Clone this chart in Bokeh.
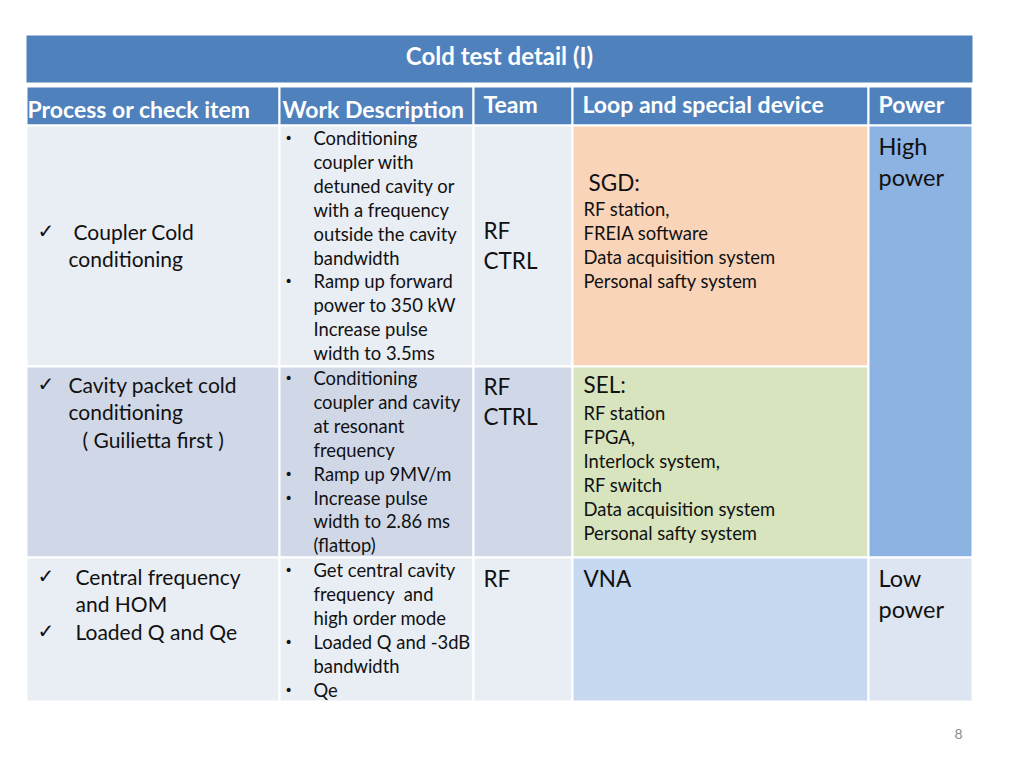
from bokeh.plotting import figure
from bokeh.models import Range1d, ColumnDataSource
from bokeh.embed import file_html
from bokeh.resources import INLINE
from bokeh.core.properties import value

# ---------------- content ----------------
title = "Cold test detail (I)"
headers = ["Process or check item", "Work Description", "Team", "Loop and special device", "Power"]

process_rows = [
    ["✓ Coupler Cold", "conditioning"],
    ["✓ Cavity packet cold", "conditioning", "( Guilietta first )"],
    ["✓ Central frequency", "and HOM", "✓ Loaded Q and Qe"],
]
work_rows = [
    ["• Conditioning", "coupler with", "detuned cavity or", "with a frequency",
     "outside the cavity", "bandwidth", "• Ramp up forward", "power to 350 kW",
     "Increase pulse", "width to 3.5ms"],
    ["• Conditioning", "coupler and cavity", "at resonant", "frequency",
     "• Ramp up 9MV/m", "• Increase pulse", "width to 2.86 ms", "(flattop)"],
    ["• Get central cavity", "frequency\u00a0 and", "high order mode",
     "• Loaded Q and -3dB", "bandwidth", "• Qe"],
]
teams = [["RF", "CTRL"], ["RF", "CTRL"], ["RF"]]
device_heads = ["SGD:", "SEL:", "VNA"]
device_items = [
    ["RF station,", "FREIA software", "Data acquisition system", "Personal safty system"],
    ["RF station", "FPGA,", "Interlock system,", "RF switch", "Data acquisition system",
     "Personal safty system"],
    [],
]
power_labels = [["High", "power"], ["Low", "power"]]
page_number = "8"

# ---------------- layout ----------------
col_edges = [26, 279, 473, 572, 868, 972]
row_edges = [125, 366, 557, 701]
header_top, header_bottom = 86, 125
title_top, title_bottom = 35, 82
DY = -1.5  # small vertical text offset

HEAD = "#4F81BD"
row_fill = ["#E9EDF4", "#D0D8E8", "#E9EDF4"]
device_fill = ["#FAD4B9", "#D7E4BD", "#C6D9F1"]
power_fill = ["#8DB3E2", "#DCE5F1"]
TXT = "#111111"
FONT = "Lato"

p = figure(width=1008, height=752, x_range=Range1d(0, 1008), y_range=Range1d(752, 0),
           x_axis_type=None, y_axis_type=None, toolbar_location=None,
           output_backend="svg", min_border=0)
p.grid.visible = False
p.outline_line_color = None
p.background_fill_color = "white"

# title bar
p.quad(left=[col_edges[0]], right=[col_edges[-1]], top=[title_top], bottom=[title_bottom],
       fill_color=HEAD, line_color=None)
p.text(x=[499], y=[56 + DY], text=[title], text_font=value(FONT), text_font_style="bold",
       text_font_size="24px", text_color="white", text_align="center", text_baseline="middle")

# header cells
p.quad(left=col_edges[:-1], right=col_edges[1:], top=[header_top] * 5, bottom=[header_bottom] * 5,
       fill_color=HEAD, line_color="white", line_width=2)
hx = [27, 282, 483, 582, 878]
hy = [110 + DY, 110 + DY, 105 + DY, 105 + DY, 105 + DY]
p.text(x=hx, y=hy, text=headers, text_font=value(FONT), text_font_style="bold",
       text_font_size="23px", text_color="white", text_align="left", text_baseline="middle")

# body cells
L, R, T, B, C = [], [], [], [], []
for r in range(3):
    for c in range(3):
        L.append(col_edges[c]); R.append(col_edges[c + 1])
        T.append(row_edges[r]); B.append(row_edges[r + 1]); C.append(row_fill[r])
    L.append(col_edges[3]); R.append(col_edges[4])
    T.append(row_edges[r]); B.append(row_edges[r + 1]); C.append(device_fill[r])
# power: high spans rows 1-2, low row 3
L += [col_edges[4], col_edges[4]]; R += [col_edges[5], col_edges[5]]
T += [row_edges[0], row_edges[2]]; B += [row_edges[2], row_edges[3]]; C += power_fill
p.quad(left=L, right=R, top=T, bottom=B, fill_color=C, line_color="white", line_width=2)

# text collection
tx, ty, tt, ts = [], [], [], []
mx, my, mt, ms = [], [], [], []  # markers (check / bullet)


def add(x, y, s, size):
    tx.append(x); ty.append(y + DY); tt.append(s); ts.append(size)


# process column
process_x = [[73, 68], [68, 68, 82], [75, 75, 75]]
process_y0 = [232, 385, 577]
for r, lines in enumerate(process_rows):
    for i, line in enumerate(lines):
        y = process_y0[r] + 27.5 * i
        if line.startswith("✓ "):
            mx.append(37); my.append(y + DY); mt.append("✓"); ms.append("20px")
            line = line[2:]
        add(process_x[r][i], y, line, "21px")

# work column
work_y0 = [139, 379, 571]
for r, lines in enumerate(work_rows):
    for i, line in enumerate(lines):
        y = work_y0[r] + 23.9 * i
        if line.startswith("• "):
            mx.append(284); my.append(y + DY); mt.append("•"); ms.append("14px")
            line = line[2:]
        add(313, y, line, "18.4px")

# team column
team_y0 = [231, 387, 579]
for r, lines in enumerate(teams):
    for i, line in enumerate(lines):
        add(483, team_y0[r] + 30 * i, line, "22.5px")

# devices
head_x = [588, 583, 583]
head_y = [183, 385, 579]
item_y0 = [210, 414, 0]
for r in range(3):
    add(head_x[r], head_y[r], device_heads[r], "22.5px")
    for i, line in enumerate(device_items[r]):
        add(583, item_y0[r] + 24 * i, line, "18.4px")

# power
power_y0 = [147, 579]
for r, lines in enumerate(power_labels):
    for i, line in enumerate(lines):
        add(878, power_y0[r] + 31 * i, line, "23.5px")

src = ColumnDataSource(dict(x=tx, y=ty, text=tt, size=ts))
p.text(x="x", y="y", text="text", text_font_size="size", source=src, text_font=value(FONT),
       text_color=TXT, text_align="left", text_baseline="middle")
msrc = ColumnDataSource(dict(x=mx, y=my, text=mt, size=ms))
p.text(x="x", y="y", text="text", text_font_size="size", source=msrc,
       text_font=value("DejaVu Sans"), text_color=TXT, text_align="left", text_baseline="middle")

# page number
p.text(x=[958], y=[733], text=[page_number], text_font=value(FONT), text_font_size="14px",
       text_color="#8C8C8C", text_align="center", text_baseline="middle")

open("out.html", "w").write(file_html(p, INLINE))
